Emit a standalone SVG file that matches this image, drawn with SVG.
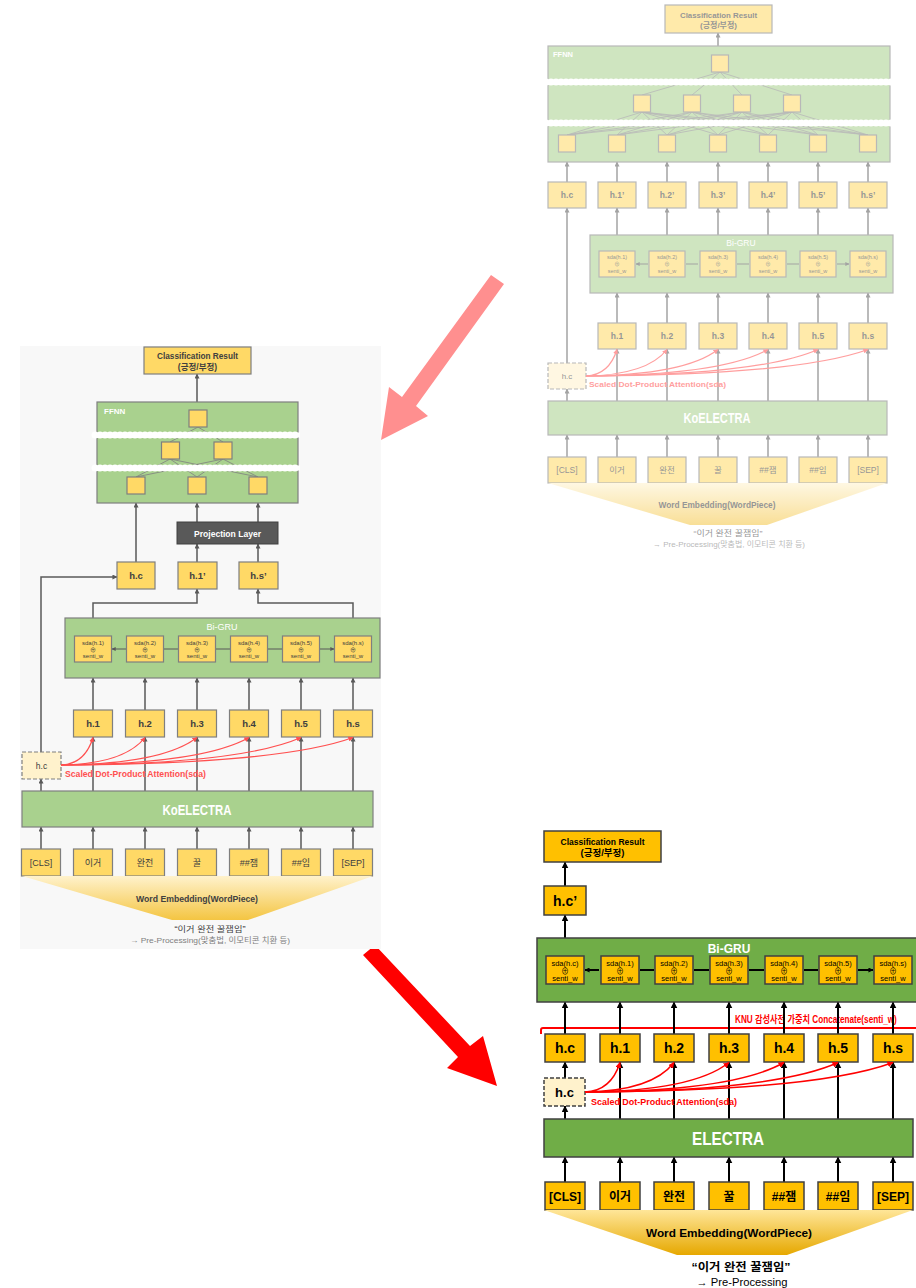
<svg xmlns="http://www.w3.org/2000/svg" width="916" height="1288" viewBox="0 0 916 1288">
<defs>
<style>
text{font-family:"Liberation Sans","Noto Sans CJK KR",sans-serif}
.c{text-anchor:middle}
.b{font-weight:bold}
.lg{fill:#a9d18e;stroke:#7f7f7f;stroke-width:1.2}
.ly{fill:#ffd966;stroke:#7f7f7f;stroke-width:1.2}
.ld{fill:#fff2cc;stroke:#7f7f7f;stroke-width:1.2;stroke-dasharray:4 2}
.bgn{fill:#70ad47;stroke:#404040;stroke-width:1.5}
.by{fill:#ffc000;stroke:#404040;stroke-width:1.5}
.bd{fill:#fff2cc;stroke:#404040;stroke-width:1.5;stroke-dasharray:4 2}
.tl{fill:#404040}
.tw{fill:#ffffff}
.cg{stroke:#595959;stroke-width:1.5;fill:none;marker-end:url(#mg)}
.cgd{stroke:#595959;stroke-width:1.2;fill:none;marker-start:url(#ms);marker-end:url(#ms)}
.cb{stroke:#000;stroke-width:2;fill:none;marker-end:url(#mb)}
.cbd{stroke:#000;stroke-width:1.8;fill:none;marker-start:url(#mbs);marker-end:url(#mbs)}
.cr{stroke:#ff5050;stroke-width:1.2;fill:none;marker-end:url(#mr)}
.cr2{stroke:#ff0000;stroke-width:1.5;fill:none;marker-end:url(#mr2)}
.ff{stroke:#7f7f7f;stroke-width:0.8;fill:none}
.sepa{stroke:#fff;stroke-width:5}
.sepb{stroke:#fff;stroke-width:7;stroke-dasharray:0 5;stroke-linecap:round}
</style>
<marker id="mg" viewBox="0 0 6 6" refX="5.5" refY="3" markerWidth="5" markerHeight="5" markerUnits="userSpaceOnUse" orient="auto-start-reverse"><path d="M0,0 L6,3 L0,6 z" fill="#595959"/></marker>
<marker id="ms" viewBox="0 0 6 6" refX="5.5" refY="3" markerWidth="4" markerHeight="4" markerUnits="userSpaceOnUse" orient="auto-start-reverse"><path d="M0,0 L6,3 L0,6 z" fill="#595959"/></marker>
<marker id="mb" viewBox="0 0 6 6" refX="5.5" refY="3" markerWidth="7" markerHeight="7" markerUnits="userSpaceOnUse" orient="auto-start-reverse"><path d="M0,0 L6,3 L0,6 z" fill="#000"/></marker>
<marker id="mbs" viewBox="0 0 6 6" refX="5.5" refY="3" markerWidth="5" markerHeight="5" markerUnits="userSpaceOnUse" orient="auto-start-reverse"><path d="M0,0 L6,3 L0,6 z" fill="#000"/></marker>
<marker id="mr" viewBox="0 0 6 6" refX="5.5" refY="3" markerWidth="5" markerHeight="5" markerUnits="userSpaceOnUse" orient="auto"><path d="M0,0 L6,3 L0,6 z" fill="#ff5050"/></marker>
<marker id="mr2" viewBox="0 0 6 6" refX="5.5" refY="3" markerWidth="6" markerHeight="6" markerUnits="userSpaceOnUse" orient="auto"><path d="M0,0 L6,3 L0,6 z" fill="#ff0000"/></marker>
<linearGradient id="gl" x1="0" y1="0" x2="0" y2="1"><stop offset="0" stop-color="#fff2cc"/><stop offset="1" stop-color="#f4c542"/></linearGradient>
<linearGradient id="gb" x1="0" y1="0" x2="0" y2="1"><stop offset="0" stop-color="#ffe699"/><stop offset="1" stop-color="#e6a800"/></linearGradient>
</defs>
<rect width="916" height="1288" fill="#fff"/>

<!-- ================= TOP-RIGHT (faded) ================= -->
<g id="top-right" opacity="0.55">
 <g id="tr-connectors">
  <line class="cg" x1="718" y1="46" x2="718" y2="33"/>
  <line class="cg" x1="567" y1="182" x2="567" y2="162"/>
  <line class="cg" x1="617" y1="182" x2="617" y2="162"/>
  <line class="cg" x1="667" y1="182" x2="667" y2="162"/>
  <line class="cg" x1="718" y1="182" x2="718" y2="162"/>
  <line class="cg" x1="768" y1="182" x2="768" y2="162"/>
  <line class="cg" x1="818" y1="182" x2="818" y2="162"/>
  <line class="cg" x1="868" y1="182" x2="868" y2="162"/>
  <line class="cg" x1="617" y1="235" x2="617" y2="208"/>
  <line class="cg" x1="667" y1="235" x2="667" y2="208"/>
  <line class="cg" x1="718" y1="235" x2="718" y2="208"/>
  <line class="cg" x1="768" y1="235" x2="768" y2="208"/>
  <line class="cg" x1="818" y1="235" x2="818" y2="208"/>
  <line class="cg" x1="868" y1="235" x2="868" y2="208"/>
  <line class="cg" x1="567" y1="363" x2="567" y2="208"/>
  <line class="cg" x1="617" y1="323" x2="617" y2="293"/>
  <line class="cg" x1="667" y1="323" x2="667" y2="293"/>
  <line class="cg" x1="718" y1="323" x2="718" y2="293"/>
  <line class="cg" x1="768" y1="323" x2="768" y2="293"/>
  <line class="cg" x1="818" y1="323" x2="818" y2="293"/>
  <line class="cg" x1="868" y1="323" x2="868" y2="293"/>
  <line class="cg" x1="567" y1="401" x2="567" y2="389"/>
  <line class="cg" x1="617" y1="401" x2="617" y2="349"/>
  <line class="cg" x1="667" y1="401" x2="667" y2="349"/>
  <line class="cg" x1="718" y1="401" x2="718" y2="349"/>
  <line class="cg" x1="768" y1="401" x2="768" y2="349"/>
  <line class="cg" x1="818" y1="401" x2="818" y2="349"/>
  <line class="cg" x1="868" y1="401" x2="868" y2="349"/>
  <line class="cg" x1="567" y1="457" x2="567" y2="435"/>
  <line class="cg" x1="617" y1="457" x2="617" y2="435"/>
  <line class="cg" x1="667" y1="457" x2="667" y2="435"/>
  <line class="cg" x1="718" y1="457" x2="718" y2="435"/>
  <line class="cg" x1="768" y1="457" x2="768" y2="435"/>
  <line class="cg" x1="818" y1="457" x2="818" y2="435"/>
  <line class="cg" x1="868" y1="457" x2="868" y2="435"/>
 </g>
 <g id="tr-class"><rect class="ly" x="665" y="5" width="107" height="28"/>
  <text class="c b tl" x="718.5" y="17.5" font-size="8" textLength="77" lengthAdjust="spacingAndGlyphs">Classification Result</text>
  <text class="c b tl" x="718.5" y="28" font-size="8">(긍정/부정)</text></g>
 <g id="tr-ffnn"><rect class="lg" x="548" y="46" width="342" height="116"/>
  <text class="b tw" x="553" y="57" font-size="7.5">FFNN</text>
  <path class="ff" d="M720,72L642,95M720,72L692,95M720,72L742,95M720,72L792,95
  M642,112L567,135M642,112L617,135M642,112L667,135M642,112L718,135M642,112L768,135M642,112L818,135M642,112L868,135
  M692,112L567,135M692,112L617,135M692,112L667,135M692,112L718,135M692,112L768,135M692,112L818,135M692,112L868,135
  M742,112L567,135M742,112L617,135M742,112L667,135M742,112L718,135M742,112L768,135M742,112L818,135M742,112L868,135
  M792,112L567,135M792,112L617,135M792,112L667,135M792,112L718,135M792,112L768,135M792,112L818,135M792,112L868,135"/>
  <line class="sepa" x1="546" y1="82" x2="892" y2="82"/><line class="sepb" x1="546" y1="82" x2="892" y2="82"/>
  <line class="sepa" x1="546" y1="123" x2="892" y2="123"/><line class="sepb" x1="546" y1="123" x2="892" y2="123"/>
  <rect class="ly" x="711.5" y="55" width="17" height="17"/>
  <rect class="ly" x="633.5" y="95" width="17" height="17"/><rect class="ly" x="683.5" y="95" width="17" height="17"/>
  <rect class="ly" x="733.5" y="95" width="17" height="17"/><rect class="ly" x="783.5" y="95" width="17" height="17"/>
  <rect class="ly" x="558.5" y="135" width="17" height="17"/><rect class="ly" x="608.5" y="135" width="17" height="17"/>
  <rect class="ly" x="658.5" y="135" width="17" height="17"/><rect class="ly" x="709.5" y="135" width="17" height="17"/>
  <rect class="ly" x="759.5" y="135" width="17" height="17"/><rect class="ly" x="809.5" y="135" width="17" height="17"/>
  <rect class="ly" x="859.5" y="135" width="17" height="17"/></g>
 <g id="tr-hprime">
  <rect class="ly" x="548" y="182" width="38" height="26"/><text class="c b tl" x="567" y="198" font-size="8.5">h.c</text>
  <rect class="ly" x="598" y="182" width="38" height="26"/><text class="c b tl" x="617" y="198" font-size="8.5">h.1’</text>
  <rect class="ly" x="648" y="182" width="38" height="26"/><text class="c b tl" x="667" y="198" font-size="8.5">h.2’</text>
  <rect class="ly" x="699" y="182" width="38" height="26"/><text class="c b tl" x="718" y="198" font-size="8.5">h.3’</text>
  <rect class="ly" x="749" y="182" width="38" height="26"/><text class="c b tl" x="768" y="198" font-size="8.5">h.4’</text>
  <rect class="ly" x="799" y="182" width="38" height="26"/><text class="c b tl" x="818" y="198" font-size="8.5">h.5’</text>
  <rect class="ly" x="849" y="182" width="38" height="26"/><text class="c b tl" x="868" y="198" font-size="8.5">h.s’</text></g>
 <g id="tr-bigru"><rect class="lg" x="590" y="235" width="303" height="58"/>
  <text class="c tw" x="741" y="246" font-size="8.5">Bi-GRU</text>
  <path class="cgd" d="M636,264H648M686,264H698M737,264H749M787,264H799M837,264H849"/>
  <g font-size="5.5" class="tl">
  <rect class="ly" x="599" y="251" width="36" height="26"/><text class="c tl" x="617" y="259.3">sda(h.1)</text><text class="c tl" x="617" y="266.3">⊕</text><text class="c tl" x="617" y="272.7">senti_w</text>
  <rect class="ly" x="649" y="251" width="36" height="26"/><text class="c tl" x="667" y="259.3">sda(h.2)</text><text class="c tl" x="667" y="266.3">⊕</text><text class="c tl" x="667" y="272.7">senti_w</text>
  <rect class="ly" x="700" y="251" width="36" height="26"/><text class="c tl" x="718" y="259.3">sda(h.3)</text><text class="c tl" x="718" y="266.3">⊕</text><text class="c tl" x="718" y="272.7">senti_w</text>
  <rect class="ly" x="750" y="251" width="36" height="26"/><text class="c tl" x="768" y="259.3">sda(h.4)</text><text class="c tl" x="768" y="266.3">⊕</text><text class="c tl" x="768" y="272.7">senti_w</text>
  <rect class="ly" x="800" y="251" width="36" height="26"/><text class="c tl" x="818" y="259.3">sda(h.5)</text><text class="c tl" x="818" y="266.3">⊕</text><text class="c tl" x="818" y="272.7">senti_w</text>
  <rect class="ly" x="850" y="251" width="36" height="26"/><text class="c tl" x="868" y="259.3">sda(h.s)</text><text class="c tl" x="868" y="266.3">⊕</text><text class="c tl" x="868" y="272.7">senti_w</text>
  </g></g>
 <g id="tr-h">
  <rect class="ly" x="598" y="323" width="38" height="26"/><text class="c b tl" x="617" y="339" font-size="8.5">h.1</text>
  <rect class="ly" x="648" y="323" width="38" height="26"/><text class="c b tl" x="667" y="339" font-size="8.5">h.2</text>
  <rect class="ly" x="699" y="323" width="38" height="26"/><text class="c b tl" x="718" y="339" font-size="8.5">h.3</text>
  <rect class="ly" x="749" y="323" width="38" height="26"/><text class="c b tl" x="768" y="339" font-size="8.5">h.4</text>
  <rect class="ly" x="799" y="323" width="38" height="26"/><text class="c b tl" x="818" y="339" font-size="8.5">h.5</text>
  <rect class="ly" x="849" y="323" width="38" height="26"/><text class="c b tl" x="868" y="339" font-size="8.5">h.s</text></g>
 <g id="tr-hc"><rect class="ld" x="548" y="363" width="38" height="26"/><text class="c tl" x="567" y="379" font-size="8">h.c</text></g>
 <g id="tr-sda">
  <path class="cr" d="M586,376Q609,375 617,349.5"/>
  <path class="cr" d="M586,376Q647,375 667,349.5"/>
  <path class="cr" d="M586,376Q685,375 718,349.5"/>
  <path class="cr" d="M586,376Q722,375 768,349.5"/>
  <path class="cr" d="M586,376Q760,375 818,349.5"/>
  <path class="cr" d="M586,376Q797,375 868,349.5"/>
  <text class="b" fill="#ff5050" x="589" y="387" font-size="8" textLength="137" lengthAdjust="spacingAndGlyphs">Scaled Dot-Product Attention(sda)</text></g>
 <g id="tr-koelectra"><rect class="lg" x="548" y="401" width="339" height="34"/>
  <text class="c b tw" x="717" y="423" font-size="14" textLength="67" lengthAdjust="spacingAndGlyphs">KoELECTRA</text></g>
 <g id="tr-tokens">
  <rect class="ly" x="548" y="457" width="38" height="26"/><text class="c tl" x="567" y="473" font-size="8.5">[CLS]</text>
  <rect class="ly" x="598" y="457" width="38" height="26"/><text class="c tl" x="617" y="473" font-size="8.5">이거</text>
  <rect class="ly" x="648" y="457" width="38" height="26"/><text class="c tl" x="667" y="473" font-size="8.5">완전</text>
  <rect class="ly" x="699" y="457" width="38" height="26"/><text class="c tl" x="718" y="473" font-size="8.5">꿀</text>
  <rect class="ly" x="749" y="457" width="38" height="26"/><text class="c tl" x="768" y="473" font-size="8.5">##잼</text>
  <rect class="ly" x="799" y="457" width="38" height="26"/><text class="c tl" x="818" y="473" font-size="8.5">##임</text>
  <rect class="ly" x="849" y="457" width="38" height="26"/><text class="c tl" x="868" y="473" font-size="8.5">[SEP]</text></g>
 <g id="tr-embedding"><polygon points="548,483 887,483 767,525 690,525" fill="url(#gl)"/>
  <text class="c b tl" x="717" y="508" font-size="8.5" textLength="117" lengthAdjust="spacingAndGlyphs">Word Embedding(WordPiece)</text>
  <text class="c tl" x="728" y="536" font-size="8" textLength="69" lengthAdjust="spacingAndGlyphs">“이거 완전 꿀잼임”</text>
  <text class="c" fill="#7f7f7f" x="729" y="547" font-size="7.5" textLength="152" lengthAdjust="spacingAndGlyphs">→ Pre-Processing(맞춤법, 이모티콘 치환 등)</text></g>
</g>

<!-- big arrows -->
<g id="arrow-pink"><polygon points="491,275 504,284 416,406 428,416 381,440 389,387 402,397" fill="#ff8f8f"/></g>
<g id="arrow-red"><polygon points="375,945 470,1046 483,1036 497,1086 447,1068 458,1057 363,955" fill="#ff0000"/></g>

<!-- ================= LEFT ================= -->
<g id="left">
 <rect id="l-background" x="20" y="346" width="361" height="603" fill="#f8f8f8"/>
 <g id="l-connectors">
  <line class="cg" x1="197" y1="402" x2="197" y2="374"/>
  <line class="cg" x1="136" y1="562" x2="136" y2="503"/>
  <line class="cg" x1="197" y1="522" x2="197" y2="503"/>
  <line class="cg" x1="258" y1="522" x2="258" y2="503"/>
  <line class="cg" x1="197" y1="562" x2="197" y2="544"/>
  <line class="cg" x1="258" y1="562" x2="258" y2="544"/>
  <path class="cg" d="M93,618V603H197V589"/>
  <path class="cg" d="M353,618V603H258V589"/>
  <path class="cg" d="M41,752V577H117"/>
  <line class="cg" x1="93" y1="710" x2="93" y2="678"/>
  <line class="cg" x1="145" y1="710" x2="145" y2="678"/>
  <line class="cg" x1="197" y1="710" x2="197" y2="678"/>
  <line class="cg" x1="249" y1="710" x2="249" y2="678"/>
  <line class="cg" x1="301" y1="710" x2="301" y2="678"/>
  <line class="cg" x1="353" y1="710" x2="353" y2="678"/>
  <line class="cg" x1="41" y1="791" x2="41" y2="779"/>
  <line class="cg" x1="93" y1="791" x2="93" y2="737"/>
  <line class="cg" x1="145" y1="791" x2="145" y2="737"/>
  <line class="cg" x1="197" y1="791" x2="197" y2="737"/>
  <line class="cg" x1="249" y1="791" x2="249" y2="737"/>
  <line class="cg" x1="301" y1="791" x2="301" y2="737"/>
  <line class="cg" x1="353" y1="791" x2="353" y2="737"/>
  <line class="cg" x1="41" y1="849" x2="41" y2="827"/>
  <line class="cg" x1="93" y1="849" x2="93" y2="827"/>
  <line class="cg" x1="145" y1="849" x2="145" y2="827"/>
  <line class="cg" x1="197" y1="849" x2="197" y2="827"/>
  <line class="cg" x1="249" y1="849" x2="249" y2="827"/>
  <line class="cg" x1="301" y1="849" x2="301" y2="827"/>
  <line class="cg" x1="353" y1="849" x2="353" y2="827"/>
 </g>
 <g id="l-class"><rect class="ly" x="144" y="347" width="107" height="27"/>
  <text class="c b tl" x="197.5" y="358.5" font-size="8.5" textLength="81" lengthAdjust="spacingAndGlyphs">Classification Result</text>
  <text class="c b tl" x="197.5" y="369.5" font-size="8.5">(긍정/부정)</text></g>
 <g id="l-ffnn"><rect class="lg" x="97" y="402" width="201" height="101"/>
  <text class="b tw" x="104" y="414" font-size="8">FFNN</text>
  <path class="ff" d="M198,427L170,442M198,427L223,442M170,459L136,477M170,459L197,477M170,459L258,477M223,459L136,477M223,459L197,477M223,459L258,477"/>
  <line class="sepa" x1="95" y1="435" x2="300" y2="435"/><line class="sepb" x1="95" y1="435" x2="300" y2="435"/>
  <line class="sepa" x1="95" y1="468" x2="300" y2="468"/><line class="sepb" x1="95" y1="468" x2="300" y2="468"/>
  <rect class="ly" x="189" y="410" width="18" height="17"/>
  <rect class="ly" x="161.5" y="442" width="18" height="17"/><rect class="ly" x="214" y="442" width="18" height="17"/>
  <rect class="ly" x="127" y="477" width="18" height="17"/><rect class="ly" x="188" y="477" width="18" height="17"/>
  <rect class="ly" x="249" y="477" width="18" height="17"/></g>
 <g id="l-projection"><rect x="177" y="522" width="101" height="22" fill="#595959" stroke="#404040" stroke-width="1"/>
  <text class="c b tw" x="227.5" y="536.5" font-size="8.5" textLength="67" lengthAdjust="spacingAndGlyphs">Projection Layer</text></g>
 <g id="l-hprime">
  <rect class="ly" x="117" y="562" width="38" height="27"/><text class="c b tl" x="136" y="579" font-size="9.5">h.c</text>
  <rect class="ly" x="178" y="562" width="39" height="27"/><text class="c b tl" x="197.5" y="579" font-size="9.5">h.1’</text>
  <rect class="ly" x="239" y="562" width="39" height="27"/><text class="c b tl" x="258.5" y="579" font-size="9.5">h.s’</text></g>
 <g id="l-bigru"><rect class="lg" x="65" y="618" width="315" height="60"/>
  <text class="c tw" x="222" y="630" font-size="9">Bi-GRU</text>
  <path class="cgd" d="M112,649H126M164,649H178M216,649H230M268,649H282M320,649H334"/>
  <g font-size="6">
  <rect class="ly" x="74.5" y="636" width="37" height="26"/><text class="c tl" x="93" y="645">sda(h.1)</text><text class="c tl" x="93" y="651.5">⊕</text><text class="c tl" x="93" y="658">senti_w</text>
  <rect class="ly" x="126.5" y="636" width="37" height="26"/><text class="c tl" x="145" y="645">sda(h.2)</text><text class="c tl" x="145" y="651.5">⊕</text><text class="c tl" x="145" y="658">senti_w</text>
  <rect class="ly" x="178.5" y="636" width="37" height="26"/><text class="c tl" x="197" y="645">sda(h.3)</text><text class="c tl" x="197" y="651.5">⊕</text><text class="c tl" x="197" y="658">senti_w</text>
  <rect class="ly" x="230.5" y="636" width="37" height="26"/><text class="c tl" x="249" y="645">sda(h.4)</text><text class="c tl" x="249" y="651.5">⊕</text><text class="c tl" x="249" y="658">senti_w</text>
  <rect class="ly" x="282.5" y="636" width="37" height="26"/><text class="c tl" x="301" y="645">sda(h.5)</text><text class="c tl" x="301" y="651.5">⊕</text><text class="c tl" x="301" y="658">senti_w</text>
  <rect class="ly" x="334.5" y="636" width="37" height="26"/><text class="c tl" x="353" y="645">sda(h.s)</text><text class="c tl" x="353" y="651.5">⊕</text><text class="c tl" x="353" y="658">senti_w</text>
  </g></g>
 <g id="l-h">
  <rect class="ly" x="73.5" y="710" width="39" height="27"/><text class="c b tl" x="93" y="727" font-size="9.5">h.1</text>
  <rect class="ly" x="125.5" y="710" width="39" height="27"/><text class="c b tl" x="145" y="727" font-size="9.5">h.2</text>
  <rect class="ly" x="177.5" y="710" width="39" height="27"/><text class="c b tl" x="197" y="727" font-size="9.5">h.3</text>
  <rect class="ly" x="229.5" y="710" width="39" height="27"/><text class="c b tl" x="249" y="727" font-size="9.5">h.4</text>
  <rect class="ly" x="281.5" y="710" width="39" height="27"/><text class="c b tl" x="301" y="727" font-size="9.5">h.5</text>
  <rect class="ly" x="333.5" y="710" width="39" height="27"/><text class="c b tl" x="353" y="727" font-size="9.5">h.s</text></g>
 <g id="l-hc"><rect class="ld" x="22" y="752" width="39" height="27"/><text class="c tl" x="41.5" y="768.5" font-size="8.5">h.c</text></g>
 <g id="l-sda">
  <path class="cr" d="M61,765Q85,764 93,737.5"/>
  <path class="cr" d="M61,765Q124,764 145,737.5"/>
  <path class="cr" d="M61,765Q163,764 197,737.5"/>
  <path class="cr" d="M61,765Q202,764 249,737.5"/>
  <path class="cr" d="M61,765Q241,764 301,737.5"/>
  <path class="cr" d="M61,765Q280,764 353,737.5"/>
  <text class="b" fill="#ff5050" x="65" y="777" font-size="8.5" textLength="141" lengthAdjust="spacingAndGlyphs">Scaled Dot-Product Attention(sda)</text></g>
 <g id="l-koelectra"><rect class="lg" x="22" y="791" width="351" height="36"/>
  <text class="c b tw" x="197" y="815" font-size="15" textLength="69" lengthAdjust="spacingAndGlyphs">KoELECTRA</text></g>
 <g id="l-tokens">
  <rect class="ly" x="21.5" y="849" width="39" height="27"/><text class="c tl" x="41" y="866" font-size="9">[CLS]</text>
  <rect class="ly" x="73.5" y="849" width="39" height="27"/><text class="c tl" x="93" y="866" font-size="9">이거</text>
  <rect class="ly" x="125.5" y="849" width="39" height="27"/><text class="c tl" x="145" y="866" font-size="9">완전</text>
  <rect class="ly" x="177.5" y="849" width="39" height="27"/><text class="c tl" x="197" y="866" font-size="9">꿀</text>
  <rect class="ly" x="229.5" y="849" width="39" height="27"/><text class="c tl" x="249" y="866" font-size="9">##잼</text>
  <rect class="ly" x="281.5" y="849" width="39" height="27"/><text class="c tl" x="301" y="866" font-size="9">##임</text>
  <rect class="ly" x="333.5" y="849" width="39" height="27"/><text class="c tl" x="353" y="866" font-size="9">[SEP]</text></g>
 <g id="l-embedding"><polygon points="22,876 373,876 248,920 172,920" fill="url(#gl)"/>
  <text class="c b tl" x="197" y="902" font-size="9" textLength="122" lengthAdjust="spacingAndGlyphs">Word Embedding(WordPiece)</text>
  <text class="c tl" x="210" y="932" font-size="8.5" textLength="71" lengthAdjust="spacingAndGlyphs">“이거 완전 꿀잼임”</text>
  <text class="c" fill="#7f7f7f" x="210" y="943" font-size="8" textLength="160" lengthAdjust="spacingAndGlyphs">→ Pre-Processing(맞춤법, 이모티콘 치환 등)</text></g>
</g>

<!-- ================= BOTTOM-RIGHT ================= -->
<g id="bottom-right">
 <g id="br-concat">
  <path d="M541,1034V1030Q541,1028 543,1028H916" stroke="#ff0000" stroke-width="2" fill="none"/>
  <text class="b" fill="#ff0000" transform="translate(735,1023) scale(0.82,1)" x="0" y="0" font-size="10">KNU 감성사전 가중치 Concatenate(senti_w)</text></g>
 <g id="br-connectors">
  <line class="cb" x1="565" y1="886" x2="565" y2="862"/>
  <line class="cb" x1="565" y1="938" x2="565" y2="915"/>
  <line class="cb" x1="565" y1="1034" x2="565" y2="1002"/>
  <line class="cb" x1="620" y1="1034" x2="620" y2="1002"/>
  <line class="cb" x1="674" y1="1034" x2="674" y2="1002"/>
  <line class="cb" x1="729" y1="1034" x2="729" y2="1002"/>
  <line class="cb" x1="784" y1="1034" x2="784" y2="1002"/>
  <line class="cb" x1="838" y1="1034" x2="838" y2="1002"/>
  <line class="cb" x1="893" y1="1034" x2="893" y2="1002"/>
  <line class="cb" x1="565" y1="1078" x2="565" y2="1062"/>
  <line class="cb" x1="565" y1="1119" x2="565" y2="1106"/>
  <line class="cb" x1="620" y1="1119" x2="620" y2="1062"/>
  <line class="cb" x1="674" y1="1119" x2="674" y2="1062"/>
  <line class="cb" x1="729" y1="1119" x2="729" y2="1062"/>
  <line class="cb" x1="784" y1="1119" x2="784" y2="1062"/>
  <line class="cb" x1="838" y1="1119" x2="838" y2="1062"/>
  <line class="cb" x1="893" y1="1119" x2="893" y2="1062"/>
  <line class="cb" x1="565" y1="1182" x2="565" y2="1157"/>
  <line class="cb" x1="620" y1="1182" x2="620" y2="1157"/>
  <line class="cb" x1="674" y1="1182" x2="674" y2="1157"/>
  <line class="cb" x1="729" y1="1182" x2="729" y2="1157"/>
  <line class="cb" x1="784" y1="1182" x2="784" y2="1157"/>
  <line class="cb" x1="838" y1="1182" x2="838" y2="1157"/>
  <line class="cb" x1="893" y1="1182" x2="893" y2="1157"/>
 </g>
 <g id="br-class"><rect class="by" x="544" y="831" width="117" height="31"/>
  <text class="c b" fill="#000" x="602.5" y="844.5" font-size="9.5" textLength="84" lengthAdjust="spacingAndGlyphs">Classification Result</text>
  <text class="c b" fill="#000" x="602.5" y="856" font-size="9.5">(긍정/부정)</text></g>
 <g id="br-hcprime"><rect class="by" x="544" y="886" width="42" height="29"/>
  <text class="c b" fill="#000" x="565" y="905.5" font-size="14">h.c’</text></g>
 <g id="br-bigru"><rect class="bgn" x="537" y="938" width="390" height="64"/>
  <text class="c b tw" x="729" y="952.5" font-size="12">Bi-GRU</text>
  <path class="cbd" d="M585,970H599M640,970H654M694,970H709M749,970H764M804,970H818M858,970H873"/>
  <g font-size="7.5" fill="#000">
  <rect class="by" x="546" y="956" width="38" height="28"/><text class="c" x="565" y="965.5">sda(h.c)</text><text class="c" x="565" y="973.5">⊕</text><text class="c" x="565" y="981">senti_w</text>
  <rect class="by" x="601" y="956" width="38" height="28"/><text class="c" x="620" y="965.5">sda(h.1)</text><text class="c" x="620" y="973.5">⊕</text><text class="c" x="620" y="981">senti_w</text>
  <rect class="by" x="655" y="956" width="38" height="28"/><text class="c" x="674" y="965.5">sda(h.2)</text><text class="c" x="674" y="973.5">⊕</text><text class="c" x="674" y="981">senti_w</text>
  <rect class="by" x="710" y="956" width="38" height="28"/><text class="c" x="729" y="965.5">sda(h.3)</text><text class="c" x="729" y="973.5">⊕</text><text class="c" x="729" y="981">senti_w</text>
  <rect class="by" x="765" y="956" width="38" height="28"/><text class="c" x="784" y="965.5">sda(h.4)</text><text class="c" x="784" y="973.5">⊕</text><text class="c" x="784" y="981">senti_w</text>
  <rect class="by" x="819" y="956" width="38" height="28"/><text class="c" x="838" y="965.5">sda(h.5)</text><text class="c" x="838" y="973.5">⊕</text><text class="c" x="838" y="981">senti_w</text>
  <rect class="by" x="874" y="956" width="38" height="28"/><text class="c" x="893" y="965.5">sda(h.s)</text><text class="c" x="893" y="973.5">⊕</text><text class="c" x="893" y="981">senti_w</text>
  </g></g>
 <g id="br-h">
  <rect class="by" x="545" y="1034" width="40" height="28"/><text class="c b" fill="#000" x="565" y="1053" font-size="14">h.c</text>
  <rect class="by" x="600" y="1034" width="40" height="28"/><text class="c b" fill="#000" x="620" y="1053" font-size="14">h.1</text>
  <rect class="by" x="654" y="1034" width="40" height="28"/><text class="c b" fill="#000" x="674" y="1053" font-size="14">h.2</text>
  <rect class="by" x="709" y="1034" width="40" height="28"/><text class="c b" fill="#000" x="729" y="1053" font-size="14">h.3</text>
  <rect class="by" x="764" y="1034" width="40" height="28"/><text class="c b" fill="#000" x="784" y="1053" font-size="14">h.4</text>
  <rect class="by" x="818" y="1034" width="40" height="28"/><text class="c b" fill="#000" x="838" y="1053" font-size="14">h.5</text>
  <rect class="by" x="873" y="1034" width="40" height="28"/><text class="c b" fill="#000" x="893" y="1053" font-size="14">h.s</text></g>
 <g id="br-hc"><rect class="bd" x="544" y="1078" width="41" height="28"/><text class="c b" fill="#000" x="564.5" y="1097" font-size="13">h.c</text></g>
 <g id="br-sda">
  <path class="cr2" d="M585,1092Q611,1091 620,1062.5"/>
  <path class="cr2" d="M585,1092Q652,1091 674,1062.5"/>
  <path class="cr2" d="M585,1092Q693,1091 729,1062.5"/>
  <path class="cr2" d="M585,1092Q734,1091 784,1062.5"/>
  <path class="cr2" d="M585,1092Q775,1091 838,1062.5"/>
  <path class="cr2" d="M585,1092Q816,1091 893,1062.5"/>
  <text class="b" fill="#ff0000" x="591" y="1105" font-size="9.5" textLength="146" lengthAdjust="spacingAndGlyphs">Scaled Dot-Product Attention(sda)</text></g>
 <g id="br-electra"><rect class="bgn" x="544" y="1119" width="369" height="38"/>
  <text class="c b tw" x="728" y="1145" font-size="19" textLength="72" lengthAdjust="spacingAndGlyphs">ELECTRA</text></g>
 <g id="br-tokens">
  <rect class="by" x="545" y="1182" width="40" height="28"/><text class="c b" fill="#000" x="565" y="1200.5" font-size="12">[CLS]</text>
  <rect class="by" x="600" y="1182" width="40" height="28"/><text class="c b" fill="#000" x="620" y="1200.5" font-size="12">이거</text>
  <rect class="by" x="654" y="1182" width="40" height="28"/><text class="c b" fill="#000" x="674" y="1200.5" font-size="12">완전</text>
  <rect class="by" x="709" y="1182" width="40" height="28"/><text class="c b" fill="#000" x="729" y="1200.5" font-size="12">꿀</text>
  <rect class="by" x="764" y="1182" width="40" height="28"/><text class="c b" fill="#000" x="784" y="1200.5" font-size="12">##잼</text>
  <rect class="by" x="818" y="1182" width="40" height="28"/><text class="c b" fill="#000" x="838" y="1200.5" font-size="12">##임</text>
  <rect class="by" x="873" y="1182" width="40" height="28"/><text class="c b" fill="#000" x="893" y="1200.5" font-size="12">[SEP]</text></g>
 <g id="br-embedding"><polygon points="544,1210 913,1210 787,1255 677,1255" fill="url(#gb)"/>
  <text class="c b" fill="#000" x="729" y="1237" font-size="11" textLength="166" lengthAdjust="spacingAndGlyphs">Word Embedding(WordPiece)</text>
  <text class="c b" fill="#000" x="741" y="1271" font-size="11" textLength="99" lengthAdjust="spacingAndGlyphs">“이거 완전 꿀잼임”</text>
  <text class="c" fill="#000" x="742" y="1286" font-size="11" textLength="91" lengthAdjust="spacingAndGlyphs">→ Pre-Processing</text></g>
</g>
</svg>
